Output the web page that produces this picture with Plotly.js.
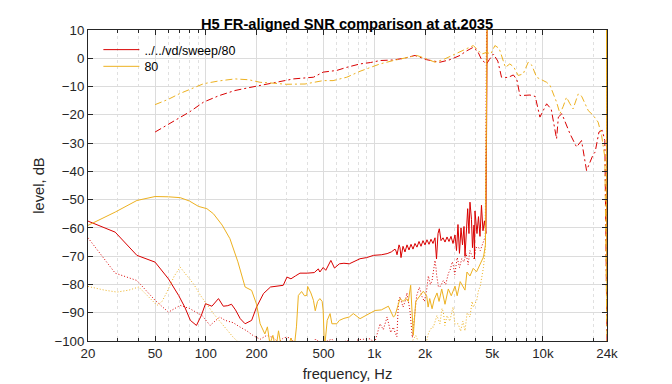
<!DOCTYPE html>
<html>
<head>
<meta charset="utf-8">
<script src="https://cdn.plot.ly/plotly-3.0.1.min.js"></script>
<style>html,body{margin:0;padding:0;background:#fff;}#chart{width:672px;height:384px;}</style>
</head>
<body>
<div id="chart"></div>
<script>
// ---- data ----
const seriesNames = ['../../vd/sweep/80', '80'];

// red: frequency-response (dash-dot)
const redFrF = [50,60,70,80,97,120,149,180,210,251,300,331,380,435,497,550,598,686,822,950,1081,1297,1500,1742,2042,2449,2811,3221,3500,3865,4100,4333,4637,4800,5082,5400,5680,6200,6677,7000,7310,8380,9000,9600,10520,11200,12050,12350,12950,14470,15840,16950,18150,19880,20400,21500,22500,23300,24000];
const redFrDb = [-26.1,-23.5,-21,-19,-15.5,-13.2,-11.4,-10.4,-9.6,-8.8,-8,-7.3,-7,-6.7,-4.9,-4.6,-4.3,-3.2,-2,-1.5,-0.8,-0.6,0,1,-0.5,-1.4,-0.5,1,2.5,3.9,2.5,-0.6,-2,-0.5,1.5,-1,-6.7,-6.8,-5.9,-7.5,-13.2,-13,-13.5,-20.8,-16.1,-18,-28.5,-20.8,-19.6,-26.7,-31.4,-29.1,-39.7,-34,-33.2,-26.1,-25.5,-29.1,-100];

// red: noise (solid)
const redNoiseF = [20,29,39,50,60,69,75,81,88,94,99.6,108.7,118.9,127,135,142,150,160,171,187,200,220,242,270,288,303,320,340,362,400,440,465,475,497,515,552,580,620,660,710,760,822,900,990,1100,1190,1260,1297,
 1326,1345,1363,1401,1420,1439,1460,1479,1520,1540,1562,1605,1630,1650,1695,1720,1742,1790,1815,1840,1891,1915,1943,1997,2025,2052,2110,2140,2168,2228,2290,2337,2386,2428,2486,2555,2625,2698,2772,2849,2928,3009,3071,3134,3198,3266,3333,3402,3449,3578,3642,3692,3768,3820,3900,3926,3953,4062,4146,4232,4320,4409,4500,4592,4656,4700,10000,20000,23800,24000];
const redNoiseDb = [-57.6,-61.5,-69.7,-72.1,-78,-83.9,-88,-92.7,-94.5,-91,-86.8,-87.7,-85,-87.7,-87.5,-87,-89,-92.1,-93.9,-92.7,-88,-83.2,-80.9,-80.5,-80.3,-77.4,-78,-77,-76,-76,-75.8,-74.5,-75.6,-74,-75,-71.5,-74.2,-72.7,-72.5,-72.7,-71.8,-70.9,-70.5,-69.7,-69.5,-69.1,-68.5,-68,
 -67.5,-68.2,-69.5,-66,-67,-70.5,-67.8,-66.5,-68.5,-67.2,-66,-67.8,-66.4,-65.8,-67.5,-66.2,-65.5,-66.8,-65.6,-64.8,-66.5,-65,-64.5,-66,-64.9,-64.2,-65.8,-64.6,-64,-65.5,-63.5,-71,-62,-60.3,-64.5,-63.5,-65,-63.2,-64.8,-63,-65.5,-62.5,-68,-58.8,-69,-60,-66,-59.5,-70,-53.2,-62,-50.9,-57,-67,-59,-71,-54,-62,-56,-63,-52,-61,-57.5,-62,35,38,38,36,30,-78];

// red: dotted
const redDotF = [20,29,39,50,60,70.5,80,88,95,106,121,130,145,160,175,190,210,230,251,270,290,317,340,400,450,480,560,600,686,750,800,861,950,1000,1081,1130,1190,1250,1297,1326,1360,1390,1420,1480,1530,1560,1626,1680,1720,1783,1850,1920,1980,2042,2090,2150,2200,2260,2290,2320,2340,2400,2470,2567,2650,2750,2811,2900,2930,3000,3100,3200,3300,3400,3500,3600,3690,3800,3900,4000,4140,4250,4400,4550,4656,4700,23800,24000];
const redDotDb = [-63.5,-76,-78.6,-85.6,-89.8,-87.4,-88.5,-89.8,-91,-94.5,-91.5,-92.7,-93.5,-95.1,-96.4,-98,-99.4,-98,-98.8,-100.5,-98.8,-98.8,-101,-103,-99.2,-101,-99.3,-102,-99.8,-101,-99.5,-99.4,-99.2,-101,-93.9,-96,-91.5,-97,-95.1,-97,-98.5,-86,-84.4,-88,-85.6,-83,-89.2,-98.8,-92,-83.9,-81,-84.4,-86,-82.1,-77,-80,-78.6,-74,-71.5,-74,-76.6,-80.9,-80.6,-78.6,-80,-76,-75,-72,-72.7,-76.5,-70.5,-74,-70.9,-72,-69,-73,-68,-70,-71,-67,-66.8,-68,-65,-63,35,38,30,-65];

// orange: frequency-response (dash-dot)
const orgFrF = [50,60,70,80,97,120,149,180,210,251,300,388,497,569,686,822,950,1081,1297,1500,1783,2000,2290,2600,2811,3221,3500,3865,4100,4333,4637,4900,5190,5500,5990,6360,6700,7140,7640,8180,8600,9170,10520,11020,12050,12620,13200,13800,14470,15100,16200,17000,18570,19880,21260,22300,23300,24000];
const orgFrDb = [-16.4,-14.5,-12.5,-11,-9,-8,-7.3,-7.6,-8.5,-8.8,-9.2,-9.1,-7.9,-7.9,-6.7,-4.6,-3.2,-2,-0.8,0,1,0,-1.4,-0.3,0.6,2.1,3.3,4.5,3,1.5,2.1,1.5,4.5,3.5,-3.2,-2,-3,-6.1,-5.5,-1.4,-2.5,-6.7,-8.5,-9.6,-15.5,-19.6,-17,-13.8,-16.1,-17.9,-12.6,-13.5,-18.5,-20.2,-22.6,-27.3,-35,-100];

// orange: noise (solid)
const orgNoiseF = [20,29,39,50,60,70.5,80,90.5,101.5,111,125,139,155,171,187,200,210,224,232,240,250,260,270,280,300,320,335,345,354,370,385,397,402,420,435,446,460,475,490,497,505,511,525,546,560,598,620,660,710,750,822,861,930,1010,1100,1211,1297,1326,1420,1479,1541,1590,1642,1702,1760,1866,1951,2044,2084,2130,2200,2259,2353,2420,2510,2625,2746,2860,3009,3100,3230,3449,3543,3692,3860,4040,4232,4440,4560,4656,4700,10000,20000,23800,24000];
const orgNoiseDb = [-59.1,-54.4,-50.3,-48.9,-49,-49.3,-50.5,-52.4,-53.2,-55,-59,-63.8,-72,-80.9,-82.1,-87,-93.9,-97.5,-95,-101,-98,-103,-96.4,-102,-104,-99,-102,-95,-83.9,-82.5,-84,-83.9,-80.7,-83,-85.6,-89.3,-86,-85,-86,-89.3,-101,-100,-92.7,-90.3,-93.9,-93.9,-92.7,-92,-91.5,-90.3,-92.1,-91.5,-90.5,-89.2,-89,-87.7,-91.5,-91,-85,-86,-85,-86,-80.3,-98,-86,-84,-82.4,-84,-88,-85,-88.6,-85.5,-83,-86,-81.6,-87,-81.6,-84,-80.6,-84,-79,-82,-75.6,-77,-74.3,-75.5,-73.2,-70.3,-66,35,38,38,36,30,-90];

// orange: dotted
const orgDotF = [20,25,29.7,35,40,45,51.4,55,58.8,65,70.5,77,85,93,100,111,125,146,160,200,400,800,1200,1600,1700,1760,1830,2000,2042,2100,2200,2240,2350,2449,2520,2567,2620,2700,2800,2930,3000,3140,3250,3350,3450,3550,3690,3800,3865,4050,4150,4240,4350,4440,4560,4656,4700,23800,24000];
const orgDotDb = [-80.7,-82,-82.7,-82,-80.9,-84,-87.4,-86,-82.7,-77,-73.9,-76.8,-80,-83.9,-86.5,-90.3,-94,-98.8,-101,-104,-106,-105,-104,-103,-99.5,-98,-100.5,-101,-100,-97,-95,-95.1,-91,-93.9,-88.5,-89.8,-94.5,-91,-93,-88,-94,-93.9,-96.5,-93,-96.4,-90,-91.5,-86,-88,-85.6,-82,-80.9,-77,-73.9,-67,35,38,30,-95];

// axis ticks
const xTickVals = [20,50,100,200,500,1000,2000,5000,10000,24000];
const xTickText = ['20','50','100','200','500','1k','2k','5k','10k','24k'];
const xMinorVals = [30,40,60,70,80,90,300,400,600,700,800,900,3000,4000,6000,7000,8000,9000,20000];
const yTickVals = [-100,-90,-80,-70,-60,-50,-40,-30,-20,-10,0,10];

// ---- styles ----
const RED = '#D90000';
const ORG = '#EDB120';
const DASHDOT = '7px,3px,2px,3px';
const DOT = '1px,2px';

const traces = [
  {x: redFrF, y: redFrDb, mode:'lines', line:{color:RED, width:1, dash:DASHDOT}, showlegend:false, hoverinfo:'skip'},
  {x: redNoiseF, y: redNoiseDb, mode:'lines', name: seriesNames[0], line:{color:RED, width:1}, showlegend:true, legend:'legend'},
  {x: redDotF, y: redDotDb, mode:'lines', line:{color:RED, width:1, dash:DOT}, showlegend:false, hoverinfo:'skip'},
  {x: orgFrF, y: orgFrDb, mode:'lines', line:{color:ORG, width:1, dash:DASHDOT}, showlegend:false, hoverinfo:'skip'},
  {x: orgNoiseF, y: orgNoiseDb, mode:'lines', name: seriesNames[1], line:{color:ORG, width:1}, showlegend:true, legend:'legend2'},
  {x: orgDotF, y: orgDotDb, mode:'lines', line:{color:ORG, width:1, dash:DOT}, showlegend:false, hoverinfo:'skip'}
];

const TXT = '#262626';
const FONT = 'Liberation Sans, Arial, sans-serif';
const legendBase = {x: 0.02, xanchor: 'left', yanchor: 'middle', bgcolor: 'rgba(0,0,0,0)', borderwidth: 0, itemwidth: 36, font: {family: FONT, size: 12.5, color: '#000'}};

const layout = {
  width: 672, height: 384,
  margin: {l: 88, r: 65, t: 30, b: 43},
  paper_bgcolor: '#fff', plot_bgcolor: '#fff',
  font: {family: FONT, color: TXT, size: 13},
  title: {text: '<b>H5 FR-aligned SNR comparison at at.2035</b>', font: {family: FONT, size: 14.7, color: '#000'}, x: 0.5165, xanchor: 'center', y: 1 - 23.5/384, yanchor: 'middle', yref: 'container'},
  showlegend: true,
  legend: Object.assign({}, legendBase, {y: 1 - (50 - 30) / 311}),
  legend2: Object.assign({}, legendBase, {y: 1 - (66.7 - 30) / 311}),
  xaxis: {
    type: 'log', range: [Math.log10(20), Math.log10(24000)],
    tickmode: 'array', tickvals: xTickVals, ticktext: xTickText,
    ticks: 'inside', ticklen: 5, tickcolor: TXT, tickwidth: 1,
    showline: true, linecolor: TXT, linewidth: 1, mirror: 'ticks',
    showgrid: true, gridcolor: '#dcdcdc', gridwidth: 1, zeroline: false,
    tickfont: {family: FONT, size: 13.3, color: TXT},
    title: {text: 'frequency, Hz', font: {family: FONT, size: 14.7, color: TXT}, standoff: 8},
    minor: {tickmode: 'array', tickvals: xMinorVals, ticks: 'inside', ticklen: 3, tickcolor: TXT, showgrid: true, gridcolor: '#e0e0e0', griddash: '3px,3px', gridwidth: 1}
  },
  yaxis: {
    range: [-100, 10],
    tickmode: 'array', tickvals: yTickVals,
    ticks: 'inside', ticklen: 5, tickcolor: TXT, tickwidth: 1,
    showline: true, linecolor: TXT, linewidth: 1, mirror: 'ticks',
    showgrid: true, gridcolor: '#dcdcdc', gridwidth: 1, zeroline: false,
    tickfont: {family: FONT, size: 13.3, color: TXT},
    title: {text: 'level, dB', font: {family: FONT, size: 14.7, color: TXT}, standoff: 6}
  }
};

Plotly.newPlot('chart', traces, layout, {staticPlot: true, displayModeBar: false});
</script>
</body>
</html>
